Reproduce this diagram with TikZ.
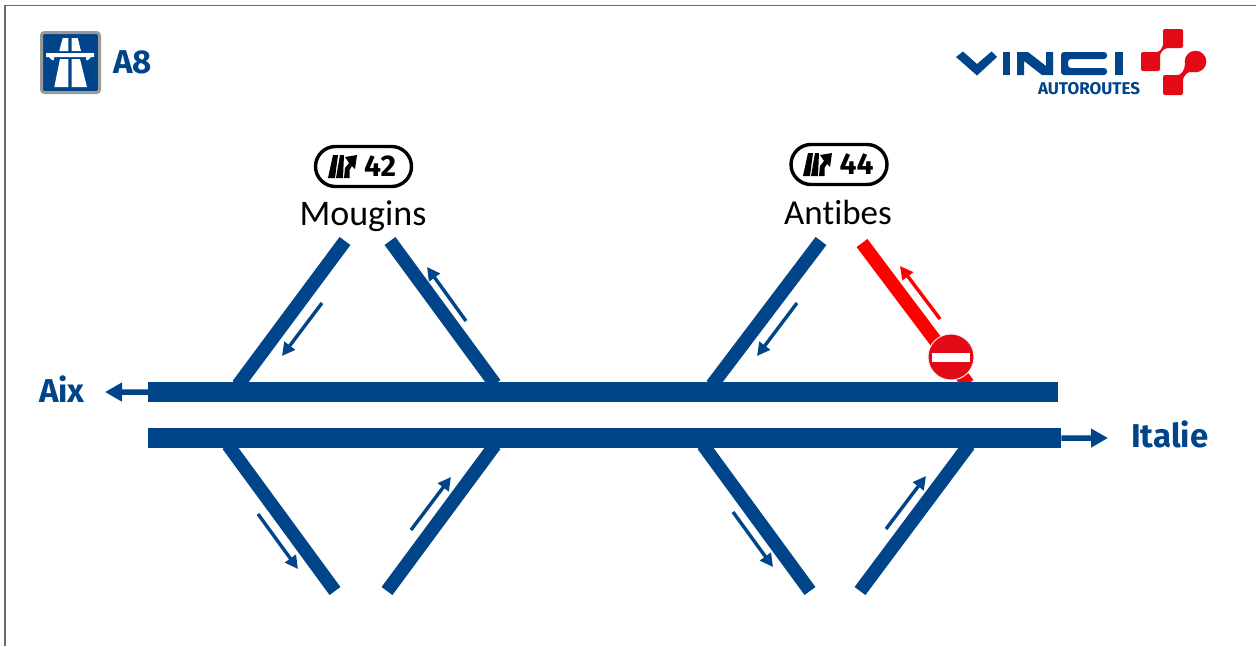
\documentclass[tikz,border=0pt]{standalone}
\usepackage{fontspec}
\setmainfont{Fira Sans}
\newfontfamily\placefont[Ligatures=NoCommon]{Carlito}
\usetikzlibrary{arrows.meta}
\definecolor{abl}{HTML}{004489}
\definecolor{rd}{HTML}{FF0000}
\definecolor{sign}{HTML}{E20A16}
\tikzset{
 road/.style={line width=13.5pt,draw=abl},
 redroad/.style={line width=13.5pt,draw=rd},
 carriage/.style={fill=abl,draw=none},
 flow/.style={line width=3.4pt,draw=abl,-{Triangle[length=13pt,width=13pt]}},
 redflow/.style={line width=3.4pt,draw=rd,-{Triangle[length=13pt,width=13pt]}},
 through/.style={line width=5.5pt,draw=abl,-{Triangle[length=17pt,width=18pt]}},
 place/.style={font=\placefont\fontsize{35}{38}\selectfont,text=black,inner sep=0pt},
 dest/.style={font=\fontsize{33}{34}\selectfont\bfseries,text=abl,inner sep=0pt},
 pill/.style={draw=black,line width=3.4pt,rounded corners=20pt,minimum width=96pt,minimum height=40pt,fill=white,inner sep=0pt},
 exitnum/.style={font=\fontsize{30}{32}\selectfont\bfseries,text=black,inner sep=0pt},
}
\begin{document}
\begin{tikzpicture}[x=1pt,y=-1pt]
\useasboundingbox (0,0) rectangle (1256,646);
\fill[white] (0,0) rectangle (1256,646);
\draw[gray!85!black,line width=1.3pt] (5,646) -- (5,5.5) -- (1256,5.5);
% motorway sign
\node[draw=gray!80,fill=abl,line width=3pt,rounded corners=3pt,minimum width=58pt,minimum height=60pt,inner sep=0pt] (msign) at (70.5,62.5) {};
\fill[white] (62.7,38) -- (68.3,38) -- (68.3,51) -- (59.3,51) -- cycle;
\fill[white] (71.7,38) -- (77.7,38) -- (81,51) -- (71.7,51) -- cycle;
\fill[white] (46,53) -- (94,53) -- (94,57) -- (91,57) -- (88,60) -- (86,60) -- (86,57) -- (54,57) -- (54,60) -- (52,60) -- (49,57) -- (46,57) -- cycle;
\fill[white] (60,59) -- (68.3,59) -- (68.3,87) -- (54.3,87) -- cycle;
\fill[white] (71.7,59) -- (80,59) -- (87,87) -- (71.7,87) -- cycle;
\node[dest,anchor=west] (a8) at (113,62.5) {A8};
% VINCI
\fill[abl] (956,57) -- (963,51.5) -- (977,64) -- (991.5,51.5) -- (997,57) -- (977,75.5) -- cycle;
\fill[abl] (1003,52) rectangle (1010,75);
\fill[abl] (1017,52) -- (1028,52) -- (1046,66) -- (1046,52) -- (1053,52) -- (1053,75) -- (1042,75) -- (1024,61) -- (1024,75) -- (1017,75) -- cycle;
\fill[abl,rounded corners=3pt] (1107,52) -- (1061,52) -- (1061,75) -- (1107,75) -- (1107,68) -- (1068,68) -- (1068,59) -- (1107,59) -- cycle;
\fill[abl] (1115,52) rectangle (1123,75);
\node[inner sep=0pt,font=\fontsize{17}{18}\selectfont\bfseries,text=abl] (auto) at (1089,89) {AUTOROUTES};
% VINCI cross
\fill[sign,rounded corners=2pt] (1141,52) -- (1155,52) .. controls (1160,52) and (1163,47) .. (1163,42) -- (1163,29) -- (1183,29) -- (1183,48) -- (1170,48) .. controls (1164,48) and (1160,53) .. (1160,58) -- (1160,71) -- (1141,71) -- cycle;
\fill[sign] (1195.5,61.5) circle (10.8pt);
\fill[sign,rounded corners=2pt] (1163,75) -- (1176,75) .. controls (1181,75) and (1185,70) .. (1185,62) -- (1195,72) -- (1192,72) .. controls (1187,72) and (1183,77) .. (1183,82) -- (1183,95) -- (1163,95) -- cycle;
% exits
\node[pill] (e42) at (363.5,166.5) {};
\node[exitnum,anchor=west] (n42) at (364,166) {42};
\node[pill] (e44) at (839,164.5) {};
\node[exitnum,anchor=west] (n44) at (839.5,164) {44};
\foreach \dx/\dy in {0/0,475/-2}{
\begin{scope}[shift={(\dx,\dy)}]
\fill[black] (333,155) -- (338,155) -- (335,178) -- (328,178) -- cycle;
\fill[black] (340,155) -- (344,155) -- (343,178) -- (336,178) -- cycle;
\fill[black] (344,178) -- (345,168) -- (349,163) -- (345,157) -- (357,155) -- (355,169) -- (352,166) -- (349.5,170) -- (349.5,178) -- cycle;
\end{scope}}
\node[place,font=\placefont\fontsize{36}{38}\selectfont] (mou) at (363,216) {Mougins};
\node[place] (ant) at (838,212.5) {Antibes};
% road junction coordinates
\coordinate (m1a) at (345,241); \coordinate (m1b) at (238,385);
\coordinate (m2a) at (390,241); \coordinate (m2b) at (495,384);
\coordinate (a1a) at (821,241); \coordinate (a1b) at (712,385);
\coordinate (a2a) at (862,243); \coordinate (a2b) at (968,384);
\coordinate (l1a) at (228,445); \coordinate (l1b) at (335,591);
\coordinate (l2a) at (495,445); \coordinate (l2b) at (387,591);
\coordinate (l3a) at (703,445); \coordinate (l3b) at (810,591);
\coordinate (l4a) at (969,445); \coordinate (l4b) at (860,591);
\draw[road] (m1a) -- (m1b);
\draw[road] (m2a) -- (m2b);
\draw[road] (a1a) -- (a1b);
\draw[redroad] (a2a) -- (a2b);
\draw[road] (l1a) -- (l1b);
\draw[road] (l2a) -- (l2b);
\draw[road] (l3a) -- (l3b);
\draw[road] (l4a) -- (l4b);
% carriageways
\node[carriage,minimum width=910pt,minimum height=20pt,inner sep=0pt,anchor=north west] (top) at (148,382) {};
\node[carriage,minimum width=913pt,minimum height=20pt,inner sep=0pt,anchor=north west] (bot) at (148,428) {};
% through arrows
\node[dest,anchor=east] (aix) at (85,389) {Aix};
\node[dest,anchor=west] (ita) at (1131,434.5) {Italie};
\coordinate (aixtip) at (105,392);
\coordinate (itatip) at (1108,438);
\draw[through] (top.west) -- (aixtip);
\draw[through] (bot.east) -- (itatip);
% small arrows
\coordinate (f1a) at (322,303); \coordinate (f1b) at (282,356);
\coordinate (f2a) at (466,321); \coordinate (f2b) at (427,267);
\coordinate (f3a) at (797,303); \coordinate (f3b) at (757,356);
\coordinate (f4a) at (940,319); \coordinate (f4b) at (900,266);
\coordinate (f5a) at (258,514); \coordinate (f5b) at (298,569);
\coordinate (f6a) at (411,530); \coordinate (f6b) at (451,477);
\coordinate (f7a) at (733,512); \coordinate (f7b) at (773,567);
\coordinate (f8a) at (886,529); \coordinate (f8b) at (926,476);
\draw[flow] (f1a) -- (f1b);
\draw[flow] (f2a) -- (f2b);
\draw[flow] (f3a) -- (f3b);
\draw[redflow] (f4a) -- (f4b);
\draw[flow] (f5a) -- (f5b);
\draw[flow] (f6a) -- (f6b);
\draw[flow] (f7a) -- (f7b);
\draw[flow] (f8a) -- (f8b);
% no entry
\node[circle,fill=sign,draw=white!85!gray,line width=1pt,minimum size=46pt,inner sep=0pt] (noentry) at (951,357) {};
\node[fill=white,minimum width=38pt,minimum height=8.5pt,inner sep=0pt] (nobar) at (951,357.5) {};
\end{tikzpicture}
\end{document}
